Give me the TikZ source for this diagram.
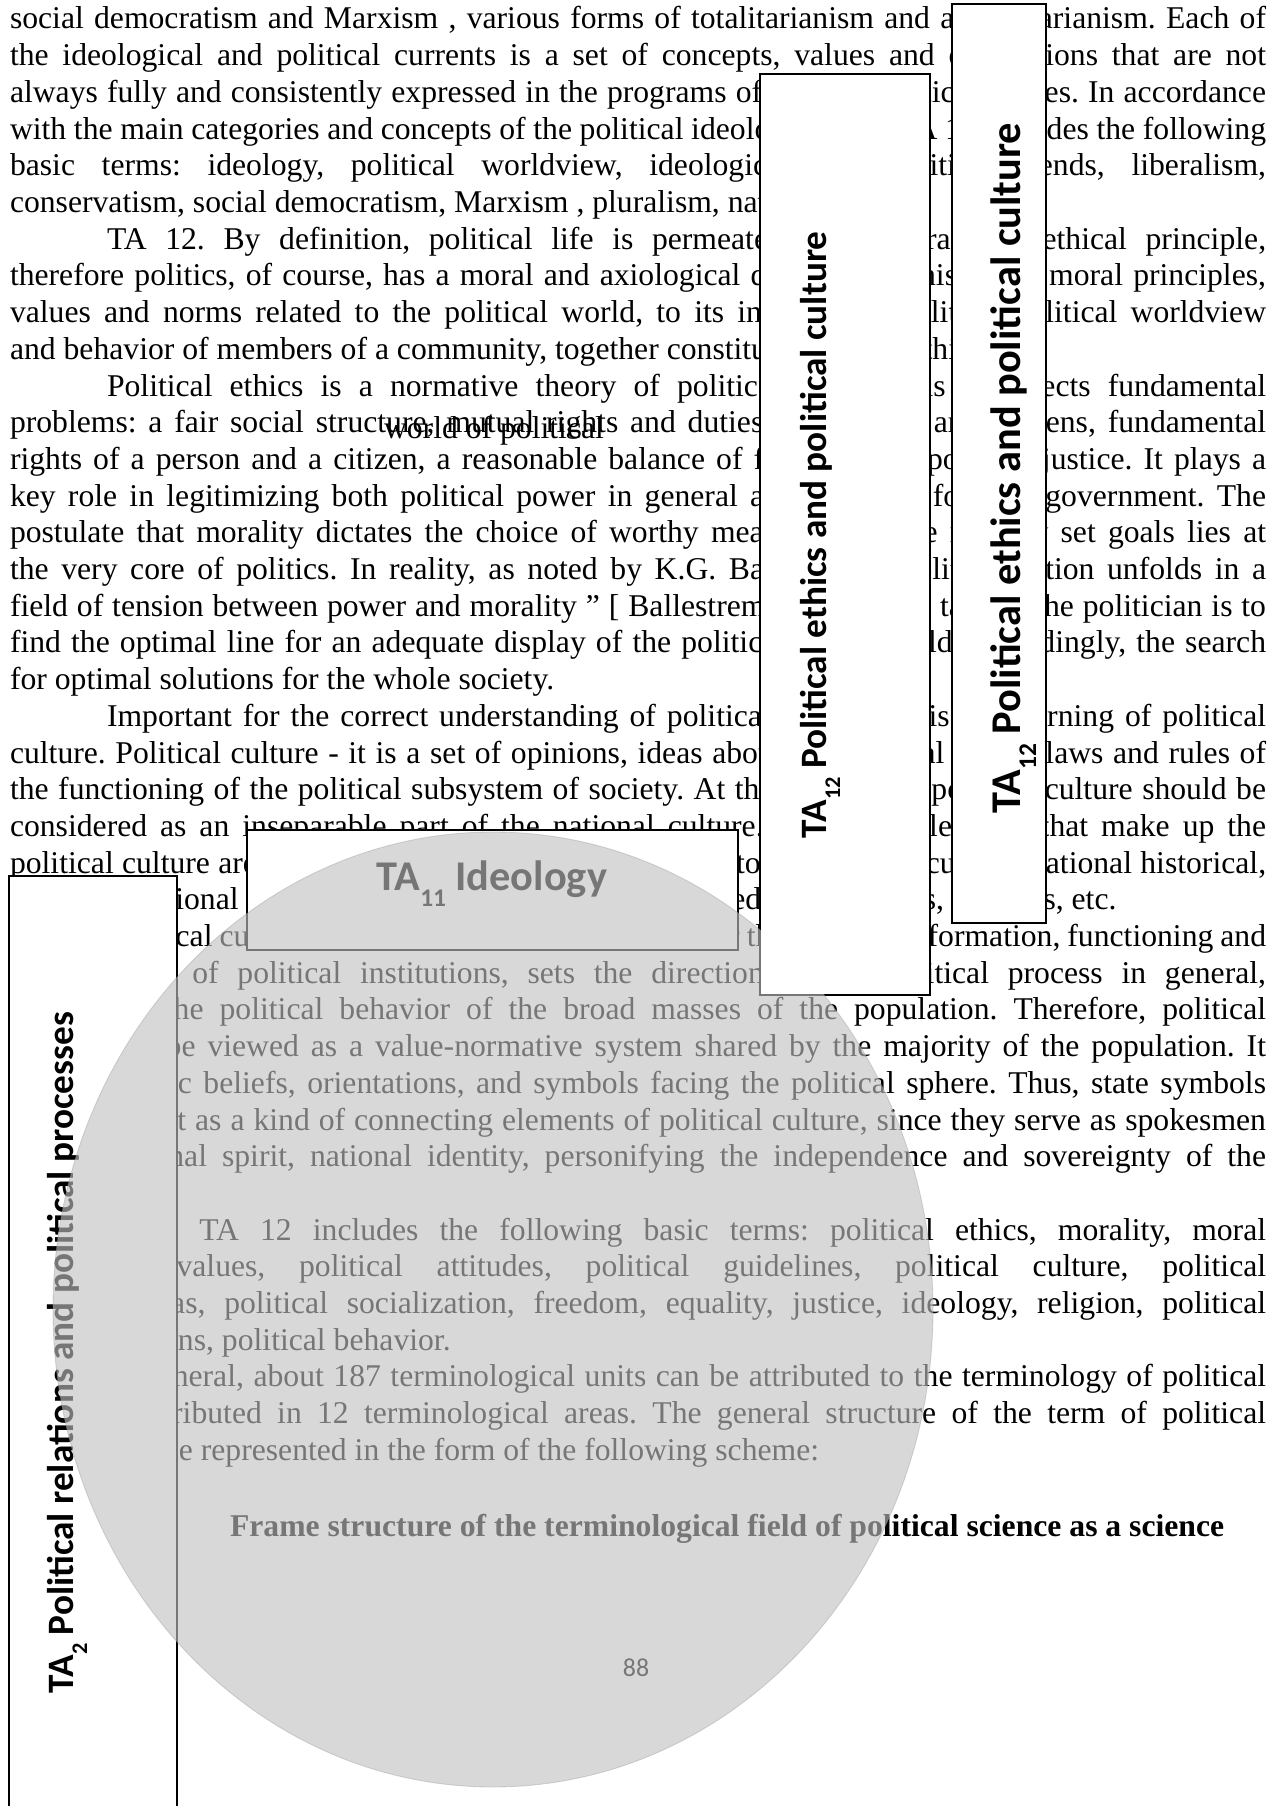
\documentclass[tikz,border=0pt]{standalone}
\usepackage{fontspec}
\setmainfont{Liberation Serif}
\newfontfamily\calib{Carlito}
\definecolor{veil}{RGB}{193,193,193}

% one unit of the picture = one pixel of a 1274 x 1806 page
\newcommand\pxu{0.4673pt}
\newcommand\bodyfont{\fontsize{14.8pt}{17.15pt}\selectfont\frenchspacing}
\newcommand\lblsmall{\calib\bfseries\fontsize{17.4pt}{20pt}\selectfont}
\newcommand\lblbig{\calib\bfseries\fontsize{19.8pt}{23pt}\selectfont}
\newcommand\tasub[1]{\raisebox{-0.38em}{\scalebox{0.6}{#1}}}

% justified line from the left margin, indented justified line, free line
\newcommand\fulln[3]{\node[txt,anchor=base west] (#1) at (10,{29+36.7*(#2-1)}) {\makebox[586.9pt][s]{#3}};}
\newcommand\indn[3]{\node[txt,anchor=base west] (#1) at (107,{29+36.7*(#2-1)}) {\makebox[541.6pt][s]{#3}};}
\newcommand\lastn[4]{\node[txt,anchor=base west] (#1) at (#2,{29+36.7*(#3-1)}) {#4};}

\tikzset{
  txt/.style={inner sep=0pt, outer sep=0pt, font=\bodyfont},
  tabox/.style={draw=black, line width=0.6pt, fill=white, inner sep=0pt, outer sep=0pt, anchor=north west},
  talbl/.style={inner sep=0pt, outer sep=0pt, text=black},
}

\begin{document}
\begin{tikzpicture}[x=0.4673pt, y=-0.4673pt]
\useasboundingbox (0,0) rectangle (1274,1806);
\fill[white] (0,0) rectangle (1274,1806);

% ---------- running text of the page ----------
\fulln{l1}{1}{social democratism and Marxism , various forms of totalitarianism and authoritarianism. Each of}
\fulln{l2}{2}{the ideological and political currents is a set of concepts, values and orientations that are not}
\fulln{l3}{3}{always fully and consistently expressed in the programs of various political parties. In accordance}
\fulln{l4}{4}{with the main categories and concepts of the political ideology, so the TA 11 includes the following}
\fulln{l5}{5}{basic terms: ideology, political worldview, ideological and political trends, liberalism,}
\lastn{l6}{10}{6}{conservatism, social democratism, Marxism , pluralism, nationalism.}
\indn{l7}{7}{TA 12. By definition, political life is permeated by a moral and ethical principle,}
\fulln{l8}{8}{therefore politics, of course, has a moral and axiological dimension. This set of moral principles,}
\fulln{l9}{9}{values and norms related to the political world, to its institutions, politics, political worldview}
\lastn{l10}{10}{10}{and behavior of members of a community, together constitute political ethics.}
\indn{l11}{11}{Political ethics is a normative theory of politics, and in this it reflects fundamental}
\fulln{l12}{12}{problems: a fair social structure, mutual rights and duties of the state and citizens, fundamental}
\fulln{l13}{13}{rights of a person and a citizen, a reasonable balance of freedom and political justice. It plays a}
\fulln{l14}{14}{key role in legitimizing both political power in general and a certain form of government. The}
\fulln{l15}{15}{postulate that morality dictates the choice of worthy means to achieve morally set goals lies at}
\fulln{l16}{16}{the very core of politics. In reality, as noted by K.G. Ballestrem, “political action unfolds in a}
\fulln{l17}{17}{field of tension between power and morality ” [ Ballestrem, 2001 ]. The task of the politician is to}
\fulln{l18}{18}{find the optimal line for an adequate display of the political in the world, accordingly, the search}
\lastn{l19}{10}{19}{for optimal solutions for the whole society.}
\indn{l20}{20}{Important for the correct understanding of political ethics also is the learning of political}
\fulln{l21}{21}{culture. Political culture - it is a set of opinions, ideas about the political world, laws and rules of}
\fulln{l22}{22}{the functioning of the political subsystem of society. At the same time, political culture should be}
\fulln{l23}{23}{considered as an inseparable part of the national culture. The main elements that make up the}
\fulln{l24}{24}{political culture are: political consciousness, political customs, political culture, national historical,}
\lastn{l25}{10}{25}{and other national values and orientations that have formed over the ages, customs, etc.}
\indn{l26}{26}{Political culture also determines the conditions for the process of formation, functioning and}
\fulln{l27}{27}{development of political institutions, sets the direction of the political process in general,}
\fulln{l28}{28}{determines the political behavior of the broad masses of the population. Therefore, political}
\fulln{l29}{29}{culture can be viewed as a value-normative system shared by the majority of the population. It}
\fulln{l30}{30}{includes basic beliefs, orientations, and symbols facing the political sphere. Thus, state symbols}
\fulln{l31}{31}{which can act as a kind of connecting elements of political culture, since they serve as spokesmen}
\fulln{l32}{32}{of the national spirit, national identity, personifying the independence and sovereignty of the}
\lastn{l33}{10}{33}{state.}
\indn{l34}{34}{Thus, TA 12 includes the following basic terms: political ethics, morality, moral}
\fulln{l35}{35}{principles, values, political attitudes, political guidelines, political culture, political}
\fulln{l36}{36}{political ideas, political socialization, freedom, equality, justice, ideology, religion, political}
\lastn{l37}{10}{37}{power relations, political behavior.}
\indn{l38}{38}{In general, about 187 terminological units can be attributed to the terminology of political}
\fulln{l39}{39}{science, distributed in 12 terminological areas. The general structure of the term of political}
\lastn{l40}{10}{40}{science can be represented in the form of the following scheme:}

\node[txt,anchor=base west] (wop) at (384,438) {world of political};
\node[txt,anchor=base west,font=\bodyfont\bfseries] (frame) at (230,1536)
  {Frame structure of the terminological field of political science as a science};
\node[inner sep=0pt,anchor=base,font=\calib\fontsize{12.1pt}{14pt}\selectfont] (pnum) at (636,1676) {88};

% ---------- area boxes under the veil ----------
\node[tabox, minimum width={168*\pxu}, minimum height={945*\pxu}] (boxP) at (9,876) {};
\node[talbl, font=\lblsmall, rotate=90, anchor=base west] (labP) at (73,1693)
  {TA\tasub{2} Political relations and political processes};

\node[tabox, minimum width={491*\pxu}, minimum height={120*\pxu}] (boxI) at (247,830) {};
\node[talbl, font=\lblbig, anchor=base] (labI) at (492,890) {TA\tasub{11} Ideology};

\node[tabox, minimum width={170*\pxu}, minimum height={921*\pxu}] (boxE) at (760,74) {};

% ---------- translucent disc ----------
\fill[veil, fill opacity=0.616] (493,1309.5) ellipse [x radius=440, y radius=477.5];
\draw[veil!75!black, draw opacity=0.35, line width=0.4pt] (493,1309.5) ellipse [x radius=440, y radius=477.5];

% ---------- area boxes above the veil ----------
\fill[white] ([xshift=0.3pt,yshift=0.3pt]boxE.south west) rectangle ([xshift=-0.3pt,yshift=-0.3pt]boxE.north east);
\node[talbl, font=\lblsmall, rotate=90, anchor=base west] (labE) at (826,838)
  {TA\tasub{12} Political ethics and political culture};

\node[tabox, minimum width={94*\pxu}, minimum height={919*\pxu}] (boxC) at (952,4) {};
\node[talbl, font=\lblbig, rotate=90, anchor=base west] (labC) at (1020,813)
  {TA\tasub{12} Political ethics and political culture};
\end{tikzpicture}
\end{document}
